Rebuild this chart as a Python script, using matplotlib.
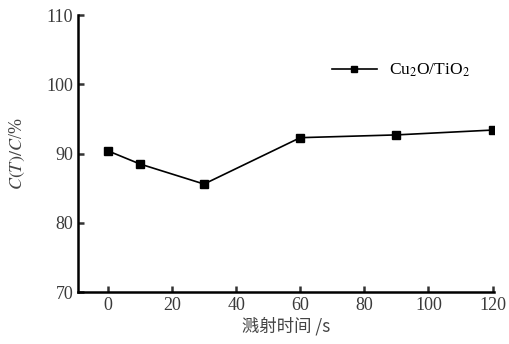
import matplotlib.pyplot as plt

# sputtering time (s) vs C(T)/C (%)
sputter_time = [0, 10, 30, 60, 90, 120]
ratio = [90.4, 88.5, 85.6, 92.3, 92.7, 93.4]
series_name = "Cu$_2$O/TiO$_2$"

plt.rcParams['font.family'] = ['Liberation Serif', 'Noto Sans CJK SC']
plt.rcParams['mathtext.fontset'] = 'stix'

fig = plt.figure(figsize=(5.1, 3.44), dpi=100)
ax = fig.add_axes([0.153, 0.151, 0.816, 0.805])

ax.plot(sputter_time, ratio, color='black', lw=1.2, marker='s', ms=5.5,
        label=series_name)

ax.set_xlim(-9.3, 120.5)
ax.set_ylim(70, 110)
ax.set_xticks([0, 20, 40, 60, 80, 100, 120])
ax.set_yticks([70, 80, 90, 100, 110])

for s in ['top', 'right']:
    ax.spines[s].set_visible(False)
for s in ['left', 'bottom']:
    ax.spines[s].set_linewidth(1.8)
ax.tick_params(direction='in', length=4, width=1.8, labelsize=13,
               colors='#333333', labelcolor='#3a3a3a')

ax.set_xlabel('溅射时间 /s', fontsize=12.5, color='#444444',
              family=['Noto Sans CJK SC', 'Liberation Serif'], labelpad=2)
ax.set_ylabel('$C(T)/C$/%', fontsize=13, color='#444444', labelpad=14)

ax.legend(loc='center left', bbox_to_anchor=(0.61, 0.80), frameon=False,
          borderaxespad=0, borderpad=0, markerscale=0.8,
          fontsize=12.5, handlelength=2.6, handletextpad=0.7)

fig.savefig('out.png', dpi=100)
